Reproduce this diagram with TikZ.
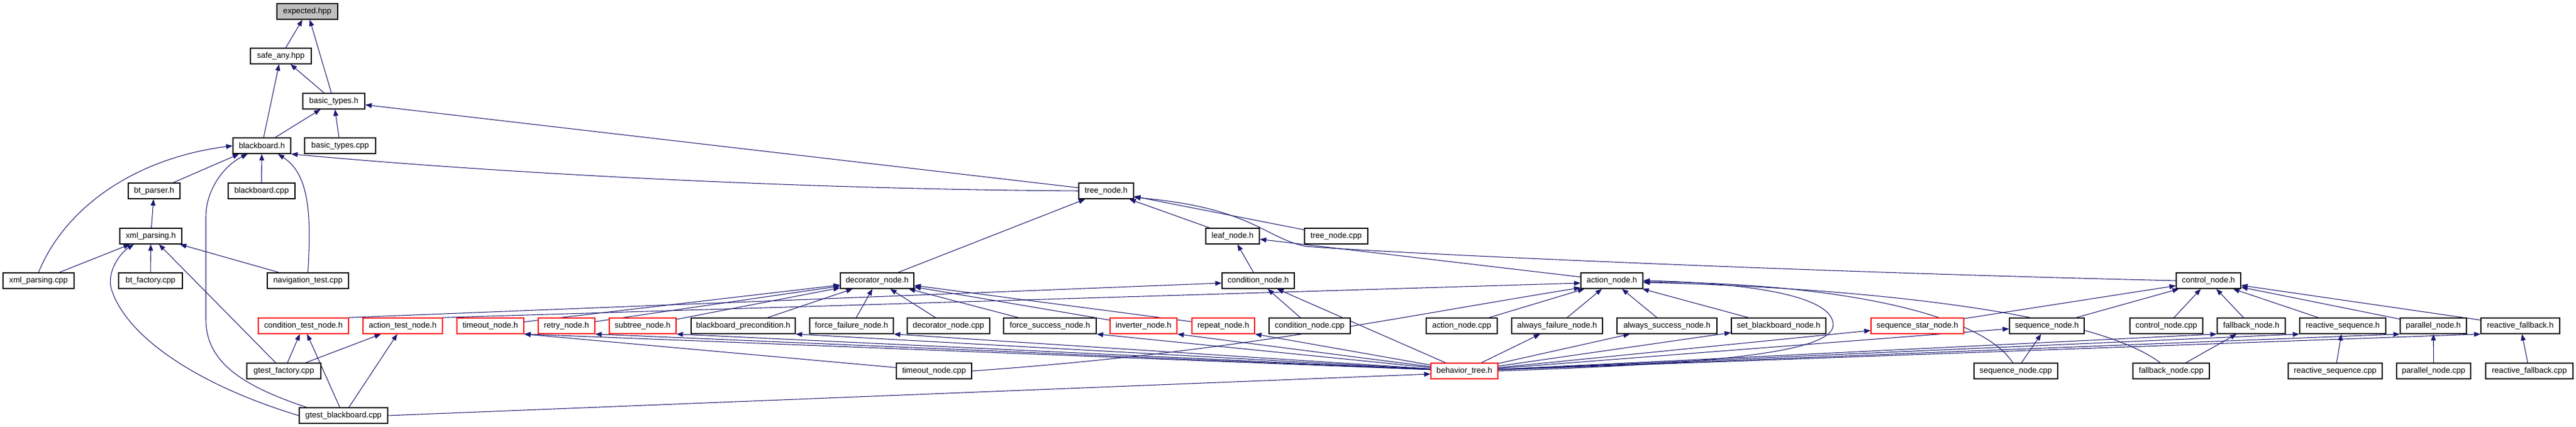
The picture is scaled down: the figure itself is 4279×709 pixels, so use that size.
\documentclass[tikz,border=0pt]{standalone}
\usepackage{fontspec}
\setmainfont{Liberation Sans}
\usetikzlibrary{arrows.meta,calc,backgrounds}
\definecolor{edgec}{HTML}{191970}
\definecolor{nodered}{HTML}{FF0000}
\definecolor{rootgray}{HTML}{BFBFBF}
\newcommand{\mknode}[6][]{\node[box,#1,minimum width={(#4-#3)*0.75pt}] (#2) at ({(#3+#4)/2},#5) {#6};}
\begin{document}
\begin{tikzpicture}[x=0.75pt,y=-0.75pt,
  box/.style={draw=black,line width=1.1pt,fill=white,minimum height=19.5pt,inner sep=0pt,font=\fontsize{10pt}{12pt}\selectfont},
  redbox/.style={draw=nodered},
  rootbox/.style={fill=rootgray},
  dep/.style={draw=edgec,line width=0.8pt,-{Triangle[length=8pt,width=6pt]}}]
\useasboundingbox (0,0) rectangle (4279,709);
% row 0-5
\mknode[rootbox]{exp}{460}{561}{19}{expected.hpp}
\mknode{safe}{416}{517}{93}{safe\_any.hpp}
\mknode{btypes}{503}{606}{168}{basic\_types.h}
\mknode{bb}{387}{483}{242}{blackboard.h}
\mknode{btcpp}{506}{624}{242}{basic\_types.cpp}
\mknode{btparser}{213}{299}{317}{bt\_parser.h}
\mknode{bbcpp}{379}{490}{317}{blackboard.cpp}
\mknode{tree}{1792}{1883}{317}{tree\_node.h}
\mknode{xmlh}{199}{302}{392}{xml\_parsing.h}
\mknode{leaf}{2003}{2092}{392}{leaf\_node.h}
\mknode{treecpp}{2167}{2272}{392}{tree\_node.cpp}
% row 6
\mknode{xmlcpp}{5}{123}{466}{xml\_parsing.cpp}
\mknode{btfac}{197}{303}{466}{bt\_factory.cpp}
\mknode{nav}{444}{579}{466}{navigation\_test.cpp}
\mknode{deco}{1396}{1518}{466}{decorator\_node.h}
\mknode{cond}{2030}{2150}{466}{condition\_node.h}
\mknode{action}{2626}{2729}{466}{action\_node.h}
\mknode{control}{3615}{3722}{466}{control\_node.h}
% row 7
\mknode[redbox]{ctest}{429}{579}{541}{condition\_test\_node.h}
\mknode[redbox]{atest}{603}{735}{541}{action\_test\_node.h}
\mknode[redbox]{timeout}{759}{870}{541}{timeout\_node.h}
\mknode[redbox]{retry}{894}{988}{541}{retry\_node.h}
\mknode[redbox]{subtree}{1012}{1123}{541}{subtree\_node.h}
\mknode{bbpre}{1148}{1321}{541}{blackboard\_precondition.h}
\mknode{ffail}{1345}{1484}{541}{force\_failure\_node.h}
\mknode{decocpp}{1507}{1644}{541}{decorator\_node.cpp}
\mknode{fsucc}{1667}{1821}{541}{force\_success\_node.h}
\mknode[redbox]{inv}{1844}{1955}{541}{inverter\_node.h}
\mknode[redbox]{rep}{1980}{2084}{541}{repeat\_node.h}
\mknode{condcpp}{2108}{2243}{541}{condition\_node.cpp}
\mknode{actcpp}{2369}{2487}{541}{action\_node.cpp}
\mknode{afail}{2511}{2662}{541}{always\_failure\_node.h}
\mknode{asucc}{2686}{2852}{541}{always\_success\_node.h}
\mknode{setbb}{2876}{3033}{541}{set\_blackboard\_node.h}
\mknode[redbox]{seqstar}{3108}{3262}{541}{sequence\_star\_node.h}
\mknode{seq}{3338}{3462}{541}{sequence\_node.h}
\mknode{ctrlcpp}{3538}{3659}{541}{control\_node.cpp}
\mknode{fb}{3683}{3796}{541}{fallback\_node.h}
\mknode{rseq}{3820}{3963}{541}{reactive\_sequence.h}
\mknode{par}{3987}{4097}{541}{parallel\_node.h}
\mknode{rfb}{4121}{4252}{541}{reactive\_fallback.h}
% row 8
\mknode{gfac}{410}{533}{616}{gtest\_factory.cpp}
\mknode{tocpp}{1489}{1614}{616}{timeout\_node.cpp}
\mknode[redbox]{bt}{2377}{2488}{616}{behavior\_tree.h}
\mknode{seqcpp}{3279}{3418}{616}{sequence\_node.cpp}
\mknode{fbcpp}{3543}{3670}{616}{fallback\_node.cpp}
\mknode{rseqcpp}{3801}{3957}{616}{reactive\_sequence.cpp}
\mknode{parcpp}{3981}{4104}{616}{parallel\_node.cpp}
\mknode{rfbcpp}{4129}{4274}{616}{reactive\_fallback.cpp}
% row 9
\mknode{gbb}{497}{644}{690}{gtest\_blackboard.cpp}

\begin{pgfonlayer}{background}
% top part
\draw[dep] (safe) -- (exp);
\draw[dep] (btypes) -- (exp);
\draw[dep] (btypes) -- (safe);
\draw[dep] (bb) -- (safe);
\draw[dep] (bb) -- (btypes);
\draw[dep] (btcpp) -- (btypes);
\draw[dep] (tree) -- (btypes);
\draw[dep] (tree.west) .. controls (1300,314) and (800,285) .. (bb.south east);
\draw[dep] (btparser) -- ($(bb.south west)+(11,0)$);
\draw[dep] (bbcpp) -- (bb);
\draw[dep] (xmlcpp.north) .. controls (110,340) and (230,262) .. (bb.west);
\draw[dep] ($(gbb.north west)+(13,0)$) .. controls (400,640) and (342,600) .. (342,530) -- (342,360) .. controls (342,315) and (372,275) .. ($(bb.south west)+(25,0)$);
\draw[dep] (nav.north) .. controls (517,360) and (515,290) .. ($(bb.south east)+(-22,0)$);
\draw[dep] (xmlh) -- (btparser);
\draw[dep] (xmlcpp) -- (xmlh);
\draw[dep] (gbb.west) .. controls (330,640) and (210,560) .. (185,480) .. controls (177,450) and (200,420) .. ($(xmlh.south west)+(24,0)$);
\draw[dep] (btfac) -- (xmlh);
\draw[dep] (gfac) -- (xmlh);
\draw[dep] (nav) -- (xmlh);
\draw[dep] (gfac) -- (ctest);
\draw[dep] (gfac) -- (atest);
\draw[dep] (gbb) -- (ctest);
\draw[dep] (gbb) -- (atest);
\draw[dep] (gbb.east) -- ($(bt.west)+(0,5)$);
\draw[dep] (ctest.north east) -- ($(cond.west)+(0,4)$);
\draw[dep] (atest.north east) -- ($(action.west)+(0,4)$);
% decorators
\draw[dep] (timeout) -- (deco);
\draw[dep] (retry) -- (deco);
\draw[dep] (subtree) -- (deco);
\draw[dep] (bbpre) -- (deco);
\draw[dep] (ffail) -- (deco);
\draw[dep] (decocpp) -- (deco);
\draw[dep] (fsucc) -- (deco);
\draw[dep] (inv) -- (deco);
\draw[dep] (rep) -- (deco);
\draw[dep] (deco) -- (tree);
\draw[dep] (leaf) -- (tree);
\draw[dep] (treecpp) -- (tree);
\draw[dep] (control.west) .. controls (3000,452) and (2300,420) .. (2169,409) .. controls (2100,395) and (2080,345) .. ($(tree.south east)+(0,-3)$);
\draw[dep] (cond) -- (leaf);
\draw[dep] (action) -- (leaf);
\draw[dep] (condcpp) -- (cond);
\draw[dep] (bt) -- (cond);
\draw[dep] (tocpp) -- (timeout.south east);
\draw[dep] (tocpp.east) .. controls (2050,585) and (2300,530) .. ($(action.south west)+(0,-2)$);
\draw[dep] (actcpp) -- (action);
\draw[dep] (afail) -- (action);
\draw[dep] (asucc) -- (action);
\draw[dep] (setbb) -- (action);
\draw[dep] (bt.east) .. controls (2800,605) and (3040,590) .. (3045,541) .. controls (3048,490) and (2900,470) .. (action.east);
\draw[dep] ($(seqcpp.north)+(-5,0)$) .. controls (3290,520) and (3050,470) .. ($(action.east)+(0,2)$);
\draw[dep] ($(fbcpp.north west)+(46,0)$) .. controls (3480,520) and (3100,478) .. ($(action.east)+(0,3)$);
% behavior_tree.h to left
\draw[dep] (bt) -- (timeout.south east);
\draw[dep] (bt) -- (retry.south east);
\draw[dep] (bt) -- (subtree.south east);
\draw[dep] (bt) -- (bbpre.south east);
\draw[dep] (bt) -- (ffail.south east);
\draw[dep] (bt) -- (fsucc.south east);
\draw[dep] (bt) -- (inv.south east);
\draw[dep] (bt) -- (rep.south east);
% behavior_tree.h to right
\draw[dep] (bt) -- (afail);
\draw[dep] (bt) -- (asucc);
\draw[dep] (bt) -- (setbb);
\draw[dep] (bt) -- (seqstar);
\draw[dep] (bt) -- (seq);
\draw[dep] (bt) -- (fb.south west);
\draw[dep] (bt) -- (rseq.south west);
\draw[dep] (bt) -- (par.south west);
\draw[dep] (bt) -- (rfb.south west);
% control node family
\draw[dep] (seqstar) -- (control);
\draw[dep] (seq) -- (control);
\draw[dep] (ctrlcpp) -- (control);
\draw[dep] (fb) -- (control);
\draw[dep] (rseq) -- (control);
\draw[dep] (par) -- (control);
\draw[dep] (rfb) -- (control);
\draw[dep] (seqcpp) -- (seq);
\draw[dep] (fbcpp) -- (fb);
\draw[dep] (rseqcpp) -- (rseq);
\draw[dep] (parcpp) -- (par);
\draw[dep] (rfbcpp) -- (rfb);
\end{pgfonlayer}
\end{tikzpicture}
\end{document}
